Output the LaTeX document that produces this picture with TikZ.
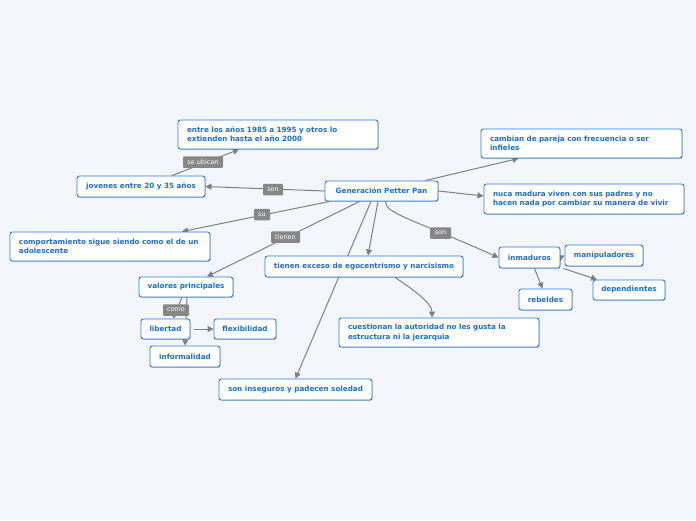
\documentclass[tikz,border=0pt]{standalone}
\usepackage{fontspec}
\newfontfamily\dvs{DejaVu Sans}
\usetikzlibrary{arrows.meta,shadows,calc}
\definecolor{bgc}{RGB}{243,246,253}
\definecolor{bordc}{RGB}{40,125,225}
\definecolor{txtc}{RGB}{25,110,210}
\definecolor{linec}{RGB}{128,128,128}
\definecolor{labc}{RGB}{135,135,135}
\pgfdeclarelayer{bg}
\pgfsetlayers{bg,main}
\tikzset{
  box/.style={draw=bordc, fill=white, rounded corners=2.5pt, line width=0.9pt, text=txtc,
    font=\dvs\bfseries\fontsize{7.2}{9.3}\selectfont, inner xsep=0pt, inner ysep=0pt,
    minimum height=20pt,
    drop shadow={shadow xshift=0.7pt, shadow yshift=-0.8pt, opacity=0.25, fill=black}},
  mbox/.style={box, align=left, text width=182pt, inner xsep=9pt, minimum height=29pt},
  link/.style={draw=linec, line width=1pt, -{Triangle[width=6pt,length=6pt]}},
  lab/.style={fill=labc, text=white, font=\dvs\fontsize{6.5}{7}\selectfont,
    rounded corners=1pt, inner sep=0pt, minimum height=11.5pt}
}
\begin{document}
\begin{tikzpicture}[x=1pt,y=-1pt]
\useasboundingbox (0,0) rectangle (696,520);

\node[box, minimum width=113pt] (gpp) at (381.5,191) {Generación Petter Pan};
\node[mbox] (entre) at (278,134.5) {entre los años 1985 a 1995 y otros lo\\extienden hasta el año 2000};
\node[box, minimum width=128pt, minimum height=21pt] (jov) at (141,186.5) {jovenes entre 20 y 35 años};
\node[mbox, text width=183pt] (camb) at (581.5,143.5) {cambian de pareja con frecuencia o ser\\infieles};
\node[mbox, minimum height=30pt] (nuca) at (584,199) {nuca madura viven con sus padres y no\\hacen nada por cambiar su manera de vivir};
\node[mbox] (comp) at (110,246.5) {comportamiento sigue siendo como el de un\\adolescente};
\node[box, minimum width=94pt] (val) at (186,287) {valores principales};
\node[box, minimum width=198pt, minimum height=21pt] (exc) at (364,266.5) {tienen exceso de egocentrismo y narcisismo};
\node[box, minimum width=61pt, minimum height=21pt] (inm) at (529.5,257.5) {inmaduros};
\node[box, minimum width=78pt, minimum height=21pt] (manip) at (604,255.5) {manipuladores};
\node[box, minimum width=72pt] (dep) at (629,290) {dependientes};
\node[box, minimum width=53pt, minimum height=21pt] (reb) at (545.5,299.5) {rebeldes};
\node[mbox] (cuest) at (439,332.5) {cuestionan la autoridad no les gusta la\\estructura ni la jerarquia};
\node[box, minimum width=153pt, minimum height=21pt] (inseg) at (295.5,389.5) {son inseguros y padecen soledad};
\node[box, minimum width=49pt] (lib) at (165.5,329) {libertad};
\node[box, minimum width=62pt] (flex) at (245,329) {flexibilidad};
\node[box, minimum width=70pt, minimum height=21pt] (inf) at (185,356.5) {informalidad};

\begin{pgfonlayer}{bg}
\fill[bgc] (0,0) rectangle (696,520);
\draw[link] (gpp.west) -- (jov.east);
\draw[link] ([xshift=31pt]jov.north) -- ([xshift=-39pt]entre.south);
\draw[link] ([xshift=5pt]gpp.south west) -- ([xshift=72pt]comp.north);
\draw[link] ([xshift=35pt]gpp.south west) -- ([xshift=21pt]val.north);
\draw[link] ([xshift=-3.5pt]gpp.south) -- ([xshift=4pt]exc.north);
\draw[link] ([xshift=-10.5pt]gpp.south) -- (inseg.north);
\draw[link] ([xshift=4pt]gpp.south) .. controls +(0,12) and +(-90,-40) .. (inm.west);
\draw[link] ([xshift=31pt]exc.south) .. controls +(15,10) and +(0,-15) .. ([xshift=-7pt]cuest.north);
\draw[link] ([xshift=-13pt]gpp.north east) -- ([xshift=-63pt]camb.south);
\draw[link] (gpp.east) -- ([yshift=3pt]nuca.west);
\draw[link] (inm.east) -- (manip.west);
\draw[link] ([xshift=3pt]inm.south east) -- ([xshift=-32pt]dep.north);
\draw[link] ([xshift=5pt]inm.south) -- ([xshift=-3pt]reb.north);
\draw[link] ([xshift=-4pt]val.south) -- ([xshift=7.5pt]lib.north);
\draw[link] ([xshift=1pt]val.south) -- (inf.north);
\draw[link] ([xshift=4pt]lib.east) -- (flex.west);
\end{pgfonlayer}

\node[lab, minimum width=40pt] (l1) at (203,162) {se ubican};
\node[lab, minimum width=20pt] (l2) at (273,189.5) {son};
\node[lab, minimum width=16pt] (l3) at (262,214.5) {su};
\node[lab, minimum width=29pt] (l4) at (285.5,237) {tienen};
\node[lab, minimum width=21pt] (l5) at (440.5,233) {son};
\node[lab, minimum width=26pt] (l6) at (176,310) {como};
\end{tikzpicture}
\end{document}
